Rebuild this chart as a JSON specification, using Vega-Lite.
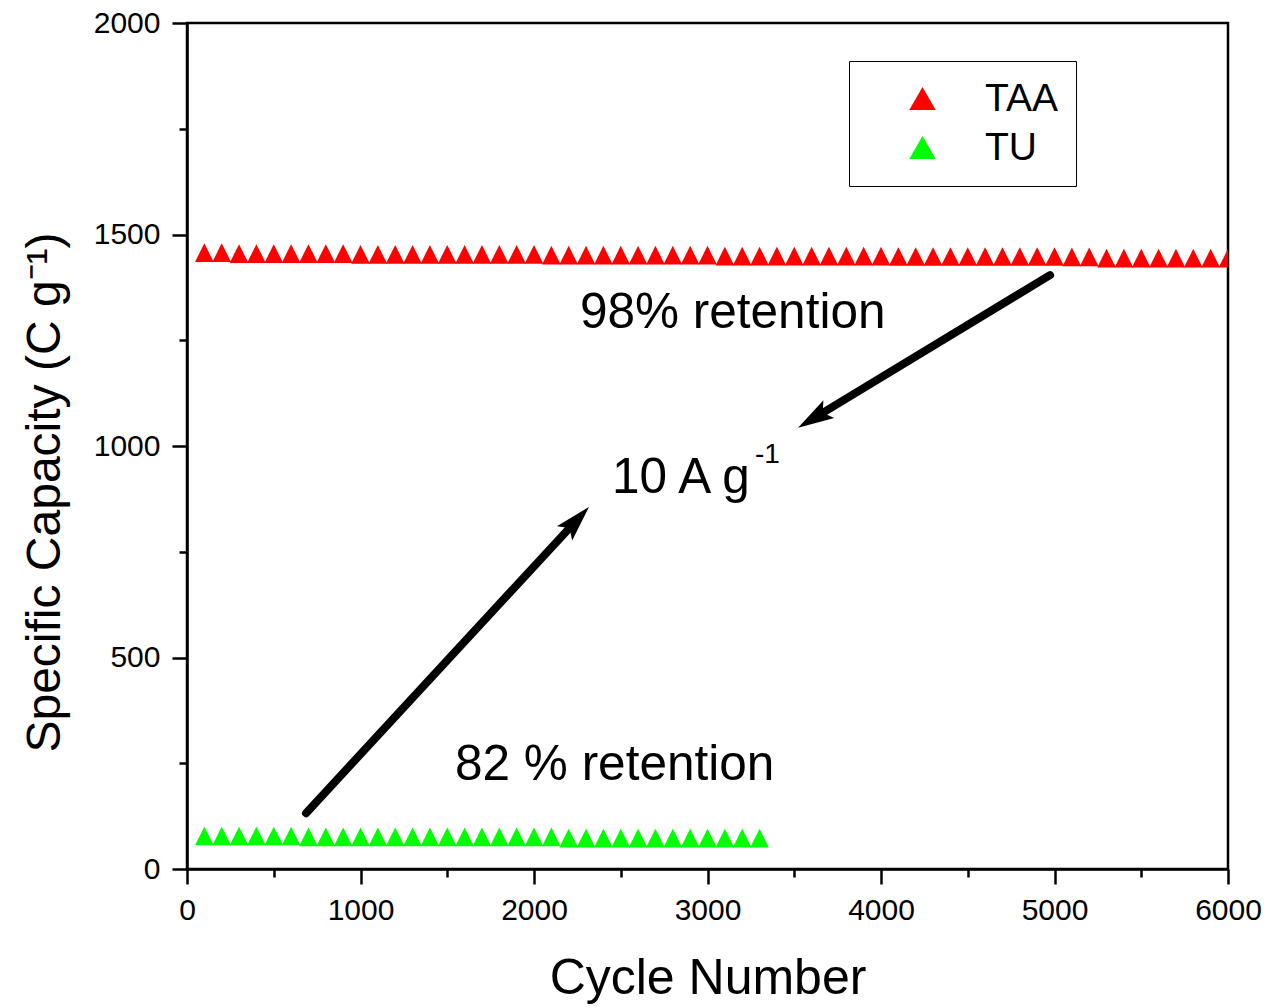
{
  "$schema": "https://vega.github.io/schema/vega-lite/v6.json",
  "width": 1041,
  "height": 846,
  "autosize": {"type": "none"},
  "padding": {"left": 187, "top": 23, "right": 48, "bottom": 139},
  "background": "white",
  "config": {"view": {"stroke": "black", "strokeWidth": 2.5}, "font": "Liberation Sans"},
  "datasets": {
    "series": [
      {"sample": "TAA", "cycle": 100, "capacity": 1457},
      {"sample": "TAA", "cycle": 200, "capacity": 1457},
      {"sample": "TAA", "cycle": 300, "capacity": 1455},
      {"sample": "TAA", "cycle": 400, "capacity": 1455},
      {"sample": "TAA", "cycle": 500, "capacity": 1455},
      {"sample": "TAA", "cycle": 600, "capacity": 1455},
      {"sample": "TAA", "cycle": 700, "capacity": 1455},
      {"sample": "TAA", "cycle": 800, "capacity": 1455},
      {"sample": "TAA", "cycle": 900, "capacity": 1455},
      {"sample": "TAA", "cycle": 1000, "capacity": 1453},
      {"sample": "TAA", "cycle": 1100, "capacity": 1453},
      {"sample": "TAA", "cycle": 1200, "capacity": 1453},
      {"sample": "TAA", "cycle": 1300, "capacity": 1453},
      {"sample": "TAA", "cycle": 1400, "capacity": 1453},
      {"sample": "TAA", "cycle": 1500, "capacity": 1453},
      {"sample": "TAA", "cycle": 1600, "capacity": 1453},
      {"sample": "TAA", "cycle": 1700, "capacity": 1453},
      {"sample": "TAA", "cycle": 1800, "capacity": 1453},
      {"sample": "TAA", "cycle": 1900, "capacity": 1453},
      {"sample": "TAA", "cycle": 2000, "capacity": 1453},
      {"sample": "TAA", "cycle": 2100, "capacity": 1451},
      {"sample": "TAA", "cycle": 2200, "capacity": 1451},
      {"sample": "TAA", "cycle": 2300, "capacity": 1451},
      {"sample": "TAA", "cycle": 2400, "capacity": 1451},
      {"sample": "TAA", "cycle": 2500, "capacity": 1451},
      {"sample": "TAA", "cycle": 2600, "capacity": 1451},
      {"sample": "TAA", "cycle": 2700, "capacity": 1451},
      {"sample": "TAA", "cycle": 2800, "capacity": 1451},
      {"sample": "TAA", "cycle": 2900, "capacity": 1451},
      {"sample": "TAA", "cycle": 3000, "capacity": 1451},
      {"sample": "TAA", "cycle": 3100, "capacity": 1449},
      {"sample": "TAA", "cycle": 3200, "capacity": 1449},
      {"sample": "TAA", "cycle": 3300, "capacity": 1449},
      {"sample": "TAA", "cycle": 3400, "capacity": 1449},
      {"sample": "TAA", "cycle": 3500, "capacity": 1449},
      {"sample": "TAA", "cycle": 3600, "capacity": 1449},
      {"sample": "TAA", "cycle": 3700, "capacity": 1449},
      {"sample": "TAA", "cycle": 3800, "capacity": 1449},
      {"sample": "TAA", "cycle": 3900, "capacity": 1449},
      {"sample": "TAA", "cycle": 4000, "capacity": 1449},
      {"sample": "TAA", "cycle": 4100, "capacity": 1448},
      {"sample": "TAA", "cycle": 4200, "capacity": 1448},
      {"sample": "TAA", "cycle": 4300, "capacity": 1448},
      {"sample": "TAA", "cycle": 4400, "capacity": 1448},
      {"sample": "TAA", "cycle": 4500, "capacity": 1448},
      {"sample": "TAA", "cycle": 4600, "capacity": 1448},
      {"sample": "TAA", "cycle": 4700, "capacity": 1448},
      {"sample": "TAA", "cycle": 4800, "capacity": 1448},
      {"sample": "TAA", "cycle": 4900, "capacity": 1448},
      {"sample": "TAA", "cycle": 5000, "capacity": 1448},
      {"sample": "TAA", "cycle": 5100, "capacity": 1447},
      {"sample": "TAA", "cycle": 5200, "capacity": 1447},
      {"sample": "TAA", "cycle": 5300, "capacity": 1444},
      {"sample": "TAA", "cycle": 5400, "capacity": 1444},
      {"sample": "TAA", "cycle": 5500, "capacity": 1444},
      {"sample": "TAA", "cycle": 5600, "capacity": 1444},
      {"sample": "TAA", "cycle": 5700, "capacity": 1444},
      {"sample": "TAA", "cycle": 5800, "capacity": 1444},
      {"sample": "TAA", "cycle": 5900, "capacity": 1444},
      {"sample": "TAA", "cycle": 6000, "capacity": 1444},
      {"sample": "TU", "cycle": 100, "capacity": 78},
      {"sample": "TU", "cycle": 200, "capacity": 78},
      {"sample": "TU", "cycle": 300, "capacity": 78},
      {"sample": "TU", "cycle": 400, "capacity": 78},
      {"sample": "TU", "cycle": 500, "capacity": 78},
      {"sample": "TU", "cycle": 600, "capacity": 78},
      {"sample": "TU", "cycle": 700, "capacity": 76},
      {"sample": "TU", "cycle": 800, "capacity": 76},
      {"sample": "TU", "cycle": 900, "capacity": 76},
      {"sample": "TU", "cycle": 1000, "capacity": 76},
      {"sample": "TU", "cycle": 1100, "capacity": 76},
      {"sample": "TU", "cycle": 1200, "capacity": 76},
      {"sample": "TU", "cycle": 1300, "capacity": 76},
      {"sample": "TU", "cycle": 1400, "capacity": 76},
      {"sample": "TU", "cycle": 1500, "capacity": 76},
      {"sample": "TU", "cycle": 1600, "capacity": 76},
      {"sample": "TU", "cycle": 1700, "capacity": 76},
      {"sample": "TU", "cycle": 1800, "capacity": 76},
      {"sample": "TU", "cycle": 1900, "capacity": 76},
      {"sample": "TU", "cycle": 2000, "capacity": 76},
      {"sample": "TU", "cycle": 2100, "capacity": 76},
      {"sample": "TU", "cycle": 2200, "capacity": 73},
      {"sample": "TU", "cycle": 2300, "capacity": 73},
      {"sample": "TU", "cycle": 2400, "capacity": 73},
      {"sample": "TU", "cycle": 2500, "capacity": 73},
      {"sample": "TU", "cycle": 2600, "capacity": 73},
      {"sample": "TU", "cycle": 2700, "capacity": 73},
      {"sample": "TU", "cycle": 2800, "capacity": 73},
      {"sample": "TU", "cycle": 2900, "capacity": 73},
      {"sample": "TU", "cycle": 3000, "capacity": 73},
      {"sample": "TU", "cycle": 3100, "capacity": 73},
      {"sample": "TU", "cycle": 3200, "capacity": 73},
      {"sample": "TU", "cycle": 3300, "capacity": 73}
    ],
    "arrows": [
      {"arrow": "TAA", "x0": 4974, "y0": 1404, "x1": 3659, "y1": 1077, "xt": 3522, "yt": 1043},
      {"arrow": "TU", "x0": 686, "y0": 132, "x1": 2207, "y1": 807, "xt": 2317, "yt": 856}
    ],
    "notes": [
      {"text": "98% retention", "x": 2265, "y": 1279},
      {"text": "82 % retention", "x": 1545, "y": 210},
      {"text": "10 A g", "x": 2450, "y": 889}
    ],
    "sup": [
      {"text": "-1", "x": 3274, "y": 960}
    ]
  },
  "layer": [
    {
      "data": {"name": "series"},
      "mark": {"type": "point", "filled": true, "shape": "M0,-1L-1,1L1,1Z", "size": 350, "opacity": 1, "strokeWidth": 0, "clip": true},
      "encoding": {
        "x": {
          "field": "cycle", "type": "quantitative",
          "scale": {"domain": [0, 6000], "nice": false, "zero": false},
          "axis": {
            "values": [0, 500, 1000, 1500, 2000, 2500, 3000, 3500, 4000, 4500, 5000, 5500, 6000],
            "labelExpr": "datum.value % 1000 === 0 ? datum.label : ''",
            "format": "d",
            "tickSize": {"condition": {"test": "datum.value % 1000 === 0", "value": 15}, "value": 8},
            "tickWidth": 2.5, "tickColor": "black", "domainColor": "black", "domainWidth": 2.5,
            "labelFont": "Liberation Sans", "labelFontSize": 30, "labelColor": "black", "labelPadding": 11,
            "labelOverlap": false, "labelFlush": false, "grid": false,
            "title": "Cycle Number", "titleFont": "Liberation Sans", "titleFontSize": 50, "titleFontWeight": "normal", "titleColor": "black",
            "titleX": 520.5, "titleY": 124, "titleBaseline": "alphabetic", "titleAlign": "center"
          }
        },
        "y": {
          "field": "capacity", "type": "quantitative",
          "scale": {"domain": [0, 2000], "nice": false, "zero": false},
          "axis": {
            "values": [0, 250, 500, 750, 1000, 1250, 1500, 1750, 2000],
            "labelExpr": "datum.value % 500 === 0 ? datum.label : ''",
            "format": "d",
            "tickSize": {"condition": {"test": "datum.value % 500 === 0", "value": 15}, "value": 8},
            "tickWidth": 2.5, "tickColor": "black", "domainColor": "black", "domainWidth": 2.5,
            "labelFont": "Liberation Sans", "labelFontSize": 30, "labelColor": "black", "labelPadding": 12,
            "labelOverlap": false, "labelFlush": false, "grid": false,
            "title": "Specific Capacity (C g⁻¹)", "titleFont": "Liberation Sans", "titleFontSize": 48, "titleFontWeight": "normal", "titleColor": "black",
            "titleAngle": -90, "titleX": -128, "titleY": 469, "titleBaseline": "alphabetic", "titleAlign": "center"
          }
        },
        "color": {
          "field": "sample", "type": "nominal",
          "scale": {"domain": ["TAA", "TU"], "range": ["#ff0000", "#00ff00"]},
          "legend": {
            "orient": "none", "legendX": 662, "legendY": 38, "title": null,
            "symbolType": "triangle-up", "symbolSize": 700, "symbolOffset": 36, "symbolStrokeWidth": 0, "symbolOpacity": 1,
            "labelOffset": 43, "labelFont": "Liberation Sans", "labelFontSize": 39, "labelColor": "black", "labelLimit": 300,
            "padding": 18, "rowPadding": 9, "strokeColor": "black", "fillColor": "white"
          }
        }
      }
    },
    {
      "data": {"name": "arrows"},
      "mark": {"type": "rule", "strokeWidth": 8, "strokeCap": "round", "color": "black"},
      "encoding": {
        "x": {"field": "x0", "type": "quantitative", "scale": {"domain": [0, 6000], "nice": false, "zero": false}},
        "y": {"field": "y0", "type": "quantitative", "scale": {"domain": [0, 2000], "nice": false, "zero": false}},
        "x2": {"field": "x1"},
        "y2": {"field": "y1"}
      }
    },
    {
      "data": {"name": "arrows"},
      "transform": [{"filter": "datum.arrow === 'TAA'"}],
      "mark": {"type": "point", "shape": "M0,0L-0.29,1L0,0.8L0.29,1Z", "size": 5184, "filled": true, "color": "black", "opacity": 1, "strokeWidth": 0, "angle": 238.7},
      "encoding": {
        "x": {"field": "xt", "type": "quantitative", "scale": {"domain": [0, 6000], "nice": false, "zero": false}},
        "y": {"field": "yt", "type": "quantitative", "scale": {"domain": [0, 2000], "nice": false, "zero": false}}
      }
    },
    {
      "data": {"name": "arrows"},
      "transform": [{"filter": "datum.arrow === 'TU'"}],
      "mark": {"type": "point", "shape": "M0,0L-0.29,1L0,0.8L0.29,1Z", "size": 5184, "filled": true, "color": "black", "opacity": 1, "strokeWidth": 0, "angle": 42.8},
      "encoding": {
        "x": {"field": "xt", "type": "quantitative", "scale": {"domain": [0, 6000], "nice": false, "zero": false}},
        "y": {"field": "yt", "type": "quantitative", "scale": {"domain": [0, 2000], "nice": false, "zero": false}}
      }
    },
    {
      "data": {"name": "notes"},
      "mark": {"type": "text", "align": "left", "baseline": "alphabetic", "font": "Liberation Sans", "fontSize": 49.5, "color": "black"},
      "encoding": {
        "x": {"field": "x", "type": "quantitative", "scale": {"domain": [0, 6000], "nice": false, "zero": false}},
        "y": {"field": "y", "type": "quantitative", "scale": {"domain": [0, 2000], "nice": false, "zero": false}},
        "text": {"field": "text"}
      }
    },
    {
      "data": {"name": "sup"},
      "mark": {"type": "text", "align": "left", "baseline": "alphabetic", "font": "Liberation Sans", "fontSize": 28, "color": "black"},
      "encoding": {
        "x": {"field": "x", "type": "quantitative", "scale": {"domain": [0, 6000], "nice": false, "zero": false}},
        "y": {"field": "y", "type": "quantitative", "scale": {"domain": [0, 2000], "nice": false, "zero": false}},
        "text": {"field": "text"}
      }
    }
  ]
}
